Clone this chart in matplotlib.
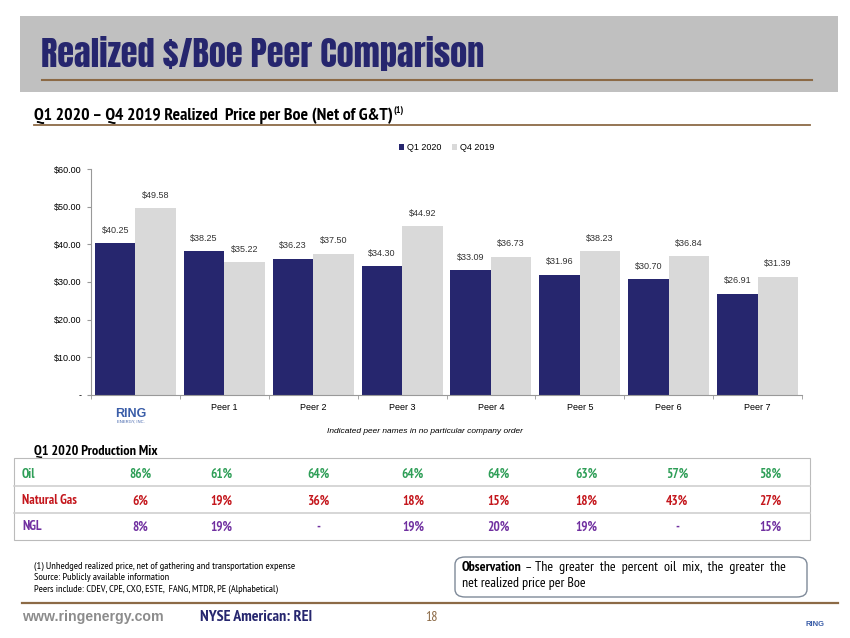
import matplotlib.pyplot as plt
import numpy as np
from matplotlib import font_manager
from matplotlib.patches import Rectangle, FancyBboxPatch
from matplotlib.lines import Line2D

categories = ['', 'Peer 1', 'Peer 2', 'Peer 3', 'Peer 4', 'Peer 5', 'Peer 6', 'Peer 7']
q1_2020 = [40.25, 38.25, 36.23, 34.30, 33.09, 31.96, 30.70, 26.91]
q4_2019 = [49.58, 35.22, 37.50, 44.92, 36.73, 38.23, 36.84, 31.39]
y_ticks = [0, 10, 20, 30, 40, 50, 60]
y_labels = ['-', '$10.00', '$20.00', '$30.00', '$40.00', '$50.00', '$60.00']

mix_rows = ['Oil', 'Natural Gas', 'NGL']
mix_oil = ['86%', '61%', '64%', '64%', '64%', '63%', '57%', '58%']
mix_gas = ['6%', '19%', '36%', '18%', '15%', '18%', '43%', '27%']
mix_ngl = ['8%', '19%', '-', '19%', '20%', '19%', '-', '15%']

NAVY = '#26266E'
LIGHT = '#D9D9D9'
BROWN = '#8C6A46'

weights = {}
for f in font_manager.fontManager.ttflist:
    w_ = f.weight if isinstance(f.weight, int) else 400
    weights.setdefault(f.name, set()).add(w_)


def pick(cands, need_bold=False):
    for c in cands:
        if c in weights and (not need_bold or max(weights[c]) >= 600):
            return c
    return 'Liberation Sans'


TITLE_FONT = pick(['Anton', 'Oswald', 'Bebas Neue', 'Fjalla One', 'Roboto Condensed'])
NARROW = pick(['Arial Narrow', 'Liberation Sans Narrow', 'Archivo Narrow', 'PT Sans Narrow',
               'Roboto Condensed', 'Open Sans Condensed', 'IBM Plex Sans Condensed',
               'Encode Sans Condensed', 'Barlow Semi Condensed', 'Sofia Sans Condensed',
               'Saira SemiCondensed'], need_bold=True)
plt.rcParams['font.family'] = ['Liberation Sans', 'DejaVu Sans']

W, H = 850, 638
fig = plt.figure(figsize=(W / 100, H / 100), dpi=100)
renderer = fig.canvas.get_renderer()


def fx(x):
    return x / W


def fy(y):
    return 1 - y / H


def hline(x0, x1, y, color=BROWN, lw=1.5):
    fig.add_artist(Line2D([fx(x0), fx(x1)], [fy(y), fy(y)], color=color, lw=lw))


def fit_width(t, target):
    # shrink or grow text so it spans the target pixel width
    wpx = t.get_window_extent(renderer).width
    t.set_fontsize(t.get_fontsize() * target / wpx)
    return t.get_fontsize()


# header band
fig.add_artist(Rectangle((fx(20), fy(92)), fx(818), 76 / H, color='#C0C0C0', lw=0))
title = fig.text(fx(41), fy(67), 'Realized $/Boe Peer Comparison', family=TITLE_FONT,
                 fontweight='bold', fontsize=27, color=NAVY, va='baseline')
fit_width(title, 444)
hline(42, 812, 80)

sub = fig.text(fx(34), fy(120), 'Q1 2020 \u2013 Q4 2019 Realized  Price per Boe (Net of G&T)',
               family=NARROW, fontweight='bold', fontsize=10.5, va='baseline')
fit_width(sub, 358)
fig.text(fx(393), fy(113), '(1)', family=NARROW, fontweight='bold', fontsize=7, va='baseline')
hline(34, 810, 125, lw=1.3)

# bar chart
ax = fig.add_axes([fx(91), fy(395), fx(802) - fx(91), (395 - 169) / H])
x = np.arange(len(categories))
w = 0.455
b1 = ax.bar(x - w / 2, q1_2020, w, color=NAVY, label='Q1 2020')
b2 = ax.bar(x + w / 2, q4_2019, w, color=LIGHT, label='Q4 2019')
for bars, vals in [(b1, q1_2020), (b2, q4_2019)]:
    for b, v in zip(bars, vals):
        ax.text(b.get_x() + b.get_width() / 2, v + 2.2, '$%.2f' % v,
                ha='center', va='bottom', fontsize=6.5, color='#333333')
ax.set_xlim(-0.5, len(categories) - 0.5)
ax.set_ylim(0, 60)
ax.set_yticks(y_ticks)
ax.set_yticklabels(y_labels, fontsize=6.5)
ax.set_xticks(x)
ax.set_xticklabels(categories, fontsize=6.5)
ax.set_xticks(np.arange(len(categories) + 1) - 0.5, minor=True)
ax.tick_params(axis='x', which='major', length=0, pad=6)
ax.tick_params(axis='x', which='minor', length=3, color='#999999')
ax.tick_params(axis='y', length=3, color='#999999', pad=4)
for s in ['top', 'right']:
    ax.spines[s].set_visible(False)
for s in ['left', 'bottom']:
    ax.spines[s].set_color('#999999')
    ax.spines[s].set_linewidth(0.8)
ax.legend(loc='lower center', bbox_to_anchor=(0.5, 1.04), ncol=2, frameon=False,
          fontsize=6.5, handlelength=0.6, handleheight=0.6, columnspacing=1.2,
          handletextpad=0.3)

# small logo text for the company
fig.text(fx(131), fy(417), 'RING', ha='center', va='baseline', fontsize=9,
         fontweight='bold', color='#3A5DA8')
fig.text(fx(131), fy(423), 'ENERGY, INC.', ha='center', va='baseline', fontsize=3,
         color='#3A5DA8')

fig.text(fx(425), fy(433), 'Indicated peer names in no particular company order',
         ha='center', va='baseline', fontsize=6, style='italic')

# production mix table
pm = fig.text(fx(34), fy(455), 'Q1 2020 Production Mix', family=NARROW,
              fontweight='bold', fontsize=9, va='baseline')
fit_width(pm, 124)
fig.add_artist(Rectangle((fx(14), fy(540)), fx(796), 82 / H, fill=False,
                         edgecolor='#BBBBBB', lw=0.8))
hline(14, 810, 486, color='#D0D0D0', lw=1.2)
hline(14, 810, 513, color='#D0D0D0', lw=1.2)
col_x = [140, 221, 318, 413, 498, 586, 677, 770]
row_y = [474, 501, 527]
row_colors = ['#2E9E57', '#C4161C', '#7030A0']
for label, vals, yy, c in zip(mix_rows, [mix_oil, mix_gas, mix_ngl], row_y, row_colors):
    fig.text(fx(22), fy(yy), label, family=NARROW, fontweight='bold', fontsize=9.5,
             color=c, va='center')
    for cx, v in zip(col_x, vals):
        fig.text(fx(cx), fy(yy), v, family=NARROW, fontweight='bold', fontsize=9.5,
                 color=c, va='center', ha='center')

# footnotes
notes = ['(1) Unhedged realized price, net of gathering and transportation expense',
         'Source: Publicly available information',
         'Peers include: CDEV, CPE, CXO, ESTE,  FANG, MTDR, PE (Alphabetical)']
n0 = fig.text(fx(34), fy(569), notes[0], family=NARROW, fontsize=6, va='baseline')
note_size = fit_width(n0, 262)
for i, n in enumerate(notes[1:], start=1):
    fig.text(fx(34), fy(569 + i * 11.5), n, family=NARROW, fontsize=note_size,
             va='baseline')

# observation box
fig.add_artist(FancyBboxPatch((fx(455), fy(597)), fx(352), 40 / H,
                              boxstyle='round,pad=0,rounding_size=0.012',
                              facecolor='white', edgecolor='#7F8A99', lw=1.0))
obs_size = 10
obs = fig.text(fx(462), fy(571), 'Observation', family=NARROW, fontweight='bold',
               fontsize=obs_size, va='baseline')
obs_w = obs.get_window_extent(renderer).width
fig.text(fx(462 + obs_w + 3), fy(571),
         '\u2013 The  greater  the  percent  oil  mix,  the  greater  the',
         family=NARROW, fontsize=obs_size, va='baseline')
fig.text(fx(462), fy(587), 'net realized price per Boe', family=NARROW,
         fontsize=obs_size, va='baseline')

# footer
hline(22, 838, 603, lw=1.6)
fig.text(fx(22), fy(621), 'www.ringenergy.com', fontweight='bold', fontsize=10.2,
         color='#8C8C8C', va='baseline')
ny = fig.text(fx(200), fy(621), 'NYSE American: REI', family=NARROW, fontweight='bold',
              fontsize=10, color=NAVY, va='baseline')
fit_width(ny, 113)
fig.text(fx(425), fy(621), '18', family=NARROW, fontsize=10, color=BROWN, va='baseline')
fig.text(fx(815), fy(626), 'RING', ha='center', va='baseline', fontsize=5.5,
         fontweight='bold', color='#3A5DA8')

plt.savefig('out.png', dpi=100)
